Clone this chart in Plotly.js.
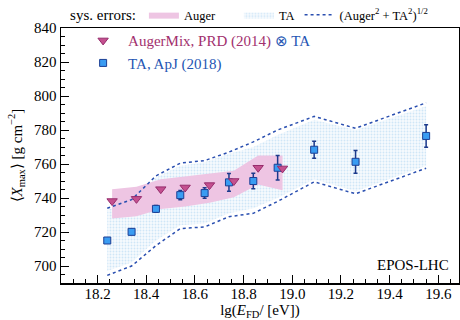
<!DOCTYPE html>
<html><head><meta charset="utf-8">
<script src="https://cdn.plot.ly/plotly-3.0.1.min.js"></script>
<style>html,body{margin:0;padding:0;background:#fff;} #chart{width:460px;height:320px;}</style>
</head><body><div id="chart"></div>
<script>
// TA, ApJ (2018)
const taX     = [18.24, 18.34, 18.44, 18.54, 18.64, 18.74, 18.84, 18.94, 19.09, 19.26, 19.55];
const taXmax  = [715.0, 720.1, 733.6, 741.7, 742.9, 749.2, 750.0, 757.8, 768.4, 761.3, 776.5];
const taStat  = [1.5, 1.5, 2.0, 2.7, 3.1, 5.2, 4.6, 7.2, 5.0, 6.7, 6.6];
const taSysHi = [733, 738, 752, 759, 761, 766, 770, 777, 786, 780, 794];
const taSysLo = [697, 702, 715, 724, 725, 731, 734, 740, 751, 744, 759];
// combined (Auger^2 + TA^2)^(1/2)
const combHi  = [734, 739, 753, 760.5, 762, 767, 773, 780, 788, 781, 796];
const combLo  = [694.5, 700, 712, 722, 723, 729, 731, 738, 749.5, 742.5, 757.5];
// AugerMix, PRD (2014) (x) TA
const augX     = [18.26, 18.36, 18.46, 18.56, 18.66, 18.76, 18.86, 18.96];
const augXmax  = [738.2, 739.5, 745.2, 746.2, 747.6, 750.0, 757.8, 757.4];
const augSysHi = [745.2, 746.6, 751.0, 752.7, 754.0, 756.0, 765.0, 765.0];
const augSysLo = [728.0, 729.3, 733.5, 735.0, 737.2, 740.4, 748.0, 744.5];

const rev = a => a.slice().reverse();
const serif = 'Liberation Serif, Times New Roman, serif';
const blueTxt = '#2555b3', pinkTxt = '#a2306e';
const sp = n => '\u00A0'.repeat(n);

const traces = [
  { // TA sys band
    x: taX.concat(rev(taX)), y: taSysHi.concat(rev(taSysLo)),
    type: 'scatter', mode: 'lines', fill: 'toself',
    fillcolor: 'rgba(235,245,253,0.6)',
    fillpattern: {shape: '.', fgcolor: '#cfe6f7', bgcolor: '#f7fbfe', size: 3, solidity: 0.3},
    line: {width: 0, color: 'rgba(0,0,0,0)'},
    name: 'TA', legend: 'legend2', legendrank: 2, hoverinfo: 'skip'
  },
  { // Auger sys band
    x: augX.concat(rev(augX)), y: augSysHi.concat(rev(augSysLo)),
    type: 'scatter', mode: 'lines', fill: 'toself',
    fillcolor: '#eec5e3', line: {width: 0, color: 'rgba(0,0,0,0)'},
    name: 'Auger' + sp(6), legend: 'legend2', legendrank: 1, hoverinfo: 'skip'
  },
  { x: taX, y: combHi, type: 'scatter', mode: 'lines',
    line: {color: '#2a4fb0', width: 1.5, dash: 'dot'},
    name: '(Auger<sup>2</sup> + TA<sup>2</sup>)<sup>1/2</sup>', legend: 'legend2', legendrank: 3 },
  { x: taX, y: combLo, type: 'scatter', mode: 'lines',
    line: {color: '#2a4fb0', width: 1.5, dash: 'dot'}, showlegend: false },
  { x: taX, y: taXmax, type: 'scatter', mode: 'markers',
    marker: {symbol: 'square', size: 7, color: '#3a9cf2', line: {color: '#1c3f94', width: 1}},
    error_y: {type: 'data', array: taStat, visible: true, color: '#1c3a8c', thickness: 1.5, width: 2},
    name: '<span style="color:' + blueTxt + '">TA, ApJ (2018)</span>', legend: 'legend', legendrank: 2 },
  { x: augX, y: augXmax, type: 'scatter', mode: 'markers',
    marker: {symbol: 'triangle-down', size: 9, color: '#c4508f', line: {color: '#962c6c', width: 1}},
    name: '<span style="color:' + pinkTxt + '">AugerMix, PRD (2014)</span> <span style="color:' + blueTxt + '">⊗ TA</span>',
    legend: 'legend', legendrank: 1 }
];

const axBase = {
  showgrid: false, zeroline: false, showline: true, linecolor: '#000', linewidth: 1.5, mirror: true,
  ticks: 'inside', ticklen: 8, tickwidth: 1, tickcolor: '#000',
  tickfont: {family: serif, size: 15, color: '#000'}
};

const layout = {
  width: 460, height: 320,
  margin: {l: 61, r: 1, t: 28, b: 37, autoexpand: false},
  paper_bgcolor: '#fff', plot_bgcolor: '#fff',
  font: {family: serif, size: 15, color: '#000'},
  xaxis: Object.assign({}, axBase, {
    range: [18.05, 19.685], tick0: 18.2, dtick: 0.2, tickformat: '.1f',
    ticklabelstandoff: -4, automargin: false,
    minor: {dtick: 0.05, tick0: 18.2, ticks: 'inside', ticklen: 4, tickcolor: '#000', tickwidth: 1},
    title: {text: 'lg(<i>E</i><sub>FD</sub>/ [eV])', font: {family: serif, size: 15}, standoff: 12}
  }),
  yaxis: Object.assign({}, axBase, {
    range: [690, 840], tick0: 700, dtick: 20, automargin: false,
    minor: {dtick: 5, ticks: 'inside', ticklen: 4, tickcolor: '#000', tickwidth: 1},
    title: {text: '⟨<i>X</i><sub>max</sub>⟩ [g cm<sup>−2</sup>]', font: {family: serif, size: 15}, standoff: 8}
  }),
  showlegend: true,
  legend: {
    x: 0.043, y: 1.015, xanchor: 'left', yanchor: 'top', bgcolor: 'rgba(0,0,0,0)',
    font: {family: serif, size: 15}, itemwidth: 40, traceorder: 'normal', tracegroupgap: 0
  },
  legend2: {
    orientation: 'h', xref: 'container', yref: 'container', x: 0.148, y: 1.0,
    xanchor: 'left', yanchor: 'top', bgcolor: 'rgba(0,0,0,0)',
    font: {family: serif, size: 12.5}, itemwidth: 30,
    title: {text: 'sys. errors:', side: 'left', font: {family: serif, size: 15}}
  },
  annotations: [{
    xref: 'paper', yref: 'paper', x: 0.98, y: 0.07, xanchor: 'right', yanchor: 'middle',
    text: 'EPOS-LHC', showarrow: false, font: {family: serif, size: 15, color: '#000'}
  }]
};

Plotly.newPlot('chart', traces, layout, {displayModeBar: false, staticPlot: true});
</script></body></html>
